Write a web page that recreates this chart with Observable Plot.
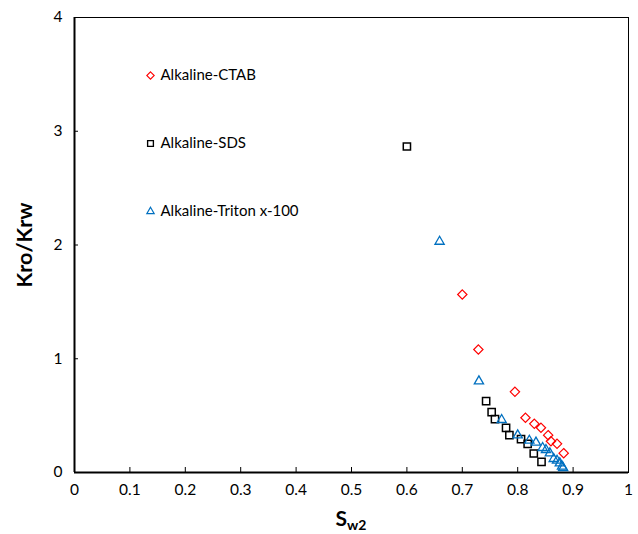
<!DOCTYPE html>
<html>
<head>
<meta charset="utf-8">
<script src="https://cdn.jsdelivr.net/npm/d3@7"></script>
<script src="https://cdn.jsdelivr.net/npm/@observablehq/plot@0.6"></script>
<style>
  html, body { margin: 0; padding: 0; background: #fff; }
</style>
</head>
<body>
<div id="chart"></div>
<script>
const seriesNames = ["Alkaline-CTAB", "Alkaline-SDS", "Alkaline-Triton x-100"];
const ctabX = [0.700, 0.729, 0.795, 0.814, 0.830, 0.842, 0.855, 0.860, 0.871, 0.883];
const ctabY = [1.565, 1.081, 0.709, 0.481, 0.428, 0.393, 0.328, 0.275, 0.252, 0.170];
const sdsX = [0.600, 0.743, 0.753, 0.759, 0.779, 0.785, 0.806, 0.818, 0.829, 0.843];
const sdsY = [2.866, 0.627, 0.530, 0.469, 0.393, 0.328, 0.293, 0.252, 0.167, 0.094];
const tritonX = [0.659, 0.730, 0.771, 0.800, 0.821, 0.833, 0.845, 0.851, 0.858, 0.865, 0.871, 0.876, 0.880, 0.882];
const tritonY = [2.030, 0.803, 0.463, 0.328, 0.281, 0.264, 0.217, 0.199, 0.170, 0.120, 0.105, 0.082, 0.053, 0.041];
const xTicks = [0, 0.1, 0.2, 0.3, 0.4, 0.5, 0.6, 0.7, 0.8, 0.9, 1];
const yTicks = [0, 1, 2, 3, 4];
const xLabelMain = "S";
const xLabelSub = "w2";
const yLabel = "Kro/Krw";

const toRows = (xs, ys) => xs.map((x, i) => ({x, y: ys[i]}));
const series = [
  {name: seriesNames[0], rows: toRows(ctabX, ctabY), symbol: "diamond2", color: "#ff0000", r: 4.2, sw: 1.2},
  {name: seriesNames[1], rows: toRows(sdsX, sdsY), symbol: "square2", color: "#000000", r: 4.6, sw: 1.5},
  {name: seriesNames[2], rows: toRows(tritonX, tritonY), symbol: "triangle2", color: "#0070c0", r: 4.4, sw: 1.3}
];

const legendMarks = [];
series.forEach((s, i) => {
  legendMarks.push(Plot.dot([s.name], {frameAnchor: "top-left", dx: 76, dy: 58 + i * 68, symbol: () => s.symbol, r: s.r * 0.8, stroke: s.color, strokeWidth: s.sw * 0.9, fill: "none"}));
  legendMarks.push(Plot.text([s.name], {frameAnchor: "top-left", lineAnchor: "middle", dx: 86, dy: 58 + i * 68, text: d => d, textAnchor: "start", fontSize: 15, fill: "#000"}));
});

const plot = Plot.plot({
  width: 638,
  height: 534,
  marginLeft: 74,
  marginRight: 10,
  marginTop: 17,
  marginBottom: 62,
  x: {domain: [0, 1]},
  y: {domain: [0, 4]},
  symbol: {type: "identity"},
  style: {fontFamily: "Lato, 'Open Sans', sans-serif", background: "#fff", color: "#000"},
  marks: [
    Plot.frame({stroke: "#000", strokeWidth: 1}),
    Plot.axisX({ticks: xTicks, tickSize: 0, tickPadding: 11, fontSize: 15.5, label: null, tickFormat: d => String(d)}),
    Plot.axisX({ticks: xTicks, tickSize: 5, dy: -5, text: null, label: null, strokeWidth: 1}),
    Plot.axisY({ticks: yTicks, tickSize: 0, tickPadding: 12, fontSize: 15.5, label: null, tickFormat: d => String(d)}),
    Plot.axisY({ticks: yTicks, tickSize: 4, dx: 4, text: null, label: null, strokeWidth: 1}),
    Plot.ruleX([0], {stroke: "#000", strokeWidth: 2}),
    Plot.ruleY([0], {stroke: "#000", strokeWidth: 2}),
    ...series.map(s => Plot.dot(s.rows, {x: "x", y: "y", symbol: () => s.symbol, r: s.r, stroke: s.color, strokeWidth: s.sw, fill: "none"})),
    ...legendMarks,
    Plot.text([yLabel], {frameAnchor: "left", dx: -49, text: d => d, rotate: -90, fontSize: 21.5, fontWeight: "bold", textAnchor: "middle", fill: "#000"})
  ]
});

// x-axis label with subscript
const ns = "http://www.w3.org/2000/svg";
const t = document.createElementNS(ns, "text");
t.setAttribute("x", 351);
t.setAttribute("y", 526);
t.setAttribute("text-anchor", "middle");
t.setAttribute("font-family", "Lato, 'Open Sans', sans-serif");
t.setAttribute("font-weight", "bold");
t.setAttribute("fill", "#000");
const t1 = document.createElementNS(ns, "tspan");
t1.setAttribute("font-size", 21);
t1.textContent = xLabelMain;
const t2 = document.createElementNS(ns, "tspan");
t2.setAttribute("font-size", 14);
t2.setAttribute("dy", 4);
t2.textContent = xLabelSub;
t.appendChild(t1);
t.appendChild(t2);
plot.appendChild(t);

document.getElementById("chart").appendChild(plot);
</script>
</body>
</html>
